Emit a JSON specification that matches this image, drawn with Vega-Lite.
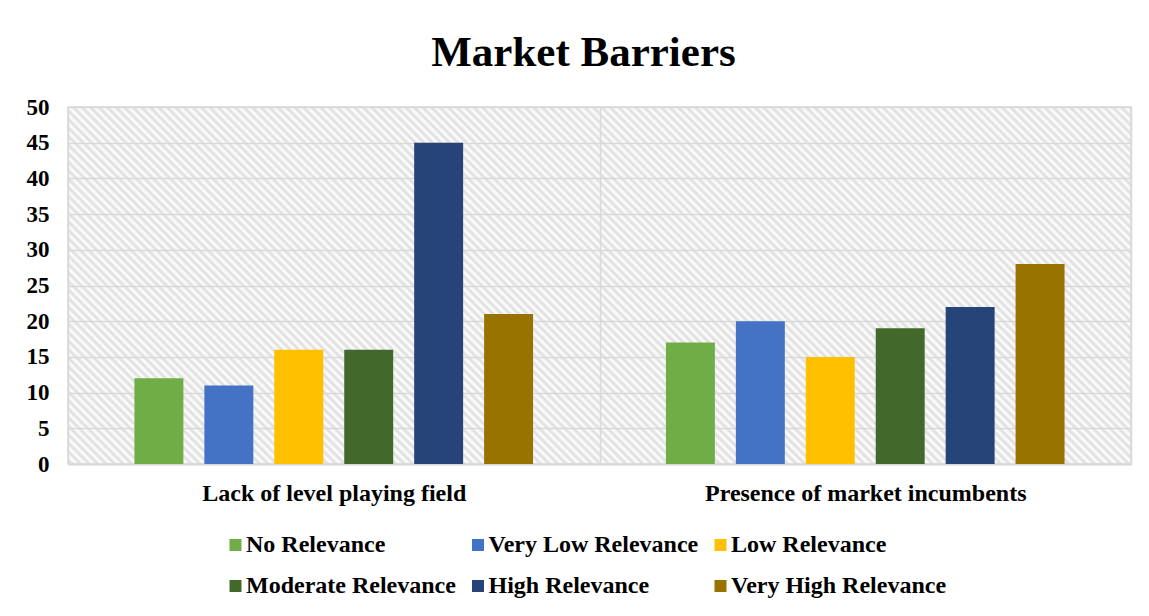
{
  "$schema": "https://vega.github.io/schema/vega-lite/v6.json",
  "width": 1063,
  "height": 357,
  "autosize": {"type": "none"},
  "padding": {"left": 68, "top": 107, "right": 18, "bottom": 152},
  "background": "white",
  "title": {"text": "Market Barriers", "font": "Liberation Serif", "fontSize": 43, "fontWeight": "bold", "color": "black", "anchor": "middle", "offset": 21, "dx": -16},
  "data": {"values": [
    {"barrier": "Lack of level playing field", "level": "No Relevance", "value": 12},
    {"barrier": "Lack of level playing field", "level": "Very Low Relevance", "value": 11},
    {"barrier": "Lack of level playing field", "level": "Low Relevance", "value": 16},
    {"barrier": "Lack of level playing field", "level": "Moderate Relevance", "value": 16},
    {"barrier": "Lack of level playing field", "level": "High Relevance", "value": 45},
    {"barrier": "Lack of level playing field", "level": "Very High Relevance", "value": 21},
    {"barrier": "Presence of market incumbents", "level": "No Relevance", "value": 17},
    {"barrier": "Presence of market incumbents", "level": "Very Low Relevance", "value": 20},
    {"barrier": "Presence of market incumbents", "level": "Low Relevance", "value": 15},
    {"barrier": "Presence of market incumbents", "level": "Moderate Relevance", "value": 19},
    {"barrier": "Presence of market incumbents", "level": "High Relevance", "value": 22},
    {"barrier": "Presence of market incumbents", "level": "Very High Relevance", "value": 28}
  ]},
  "view": {
    "stroke": "#d9d9d9",
    "strokeWidth": 1.5,
    "fill": {"gradient": "linear", "x1": 0, "y1": 1, "x2": 1.20044, "y2": 0.59684, "stops": [
{"offset":0,"color":"#fff"},{"offset":0.003,"color":"#ddd"},{"offset":0.006,"color":"#fff"},{"offset":0.009,"color":"#ddd"},{"offset":0.012,"color":"#fff"},{"offset":0.015,"color":"#ddd"},{"offset":0.018,"color":"#fff"},{"offset":0.021,"color":"#ddd"},{"offset":0.024,"color":"#fff"},{"offset":0.027,"color":"#ddd"},
{"offset":0.03,"color":"#fff"},{"offset":0.033,"color":"#ddd"},{"offset":0.036,"color":"#fff"},{"offset":0.039,"color":"#ddd"},{"offset":0.042,"color":"#fff"},{"offset":0.045,"color":"#ddd"},{"offset":0.048,"color":"#fff"},{"offset":0.051,"color":"#ddd"},{"offset":0.054,"color":"#fff"},{"offset":0.057,"color":"#ddd"},
{"offset":0.06,"color":"#fff"},{"offset":0.063,"color":"#ddd"},{"offset":0.066,"color":"#fff"},{"offset":0.069,"color":"#ddd"},{"offset":0.072,"color":"#fff"},{"offset":0.075,"color":"#ddd"},{"offset":0.078,"color":"#fff"},{"offset":0.081,"color":"#ddd"},{"offset":0.084,"color":"#fff"},{"offset":0.087,"color":"#ddd"},
{"offset":0.09,"color":"#fff"},{"offset":0.093,"color":"#ddd"},{"offset":0.096,"color":"#fff"},{"offset":0.099,"color":"#ddd"},{"offset":0.102,"color":"#fff"},{"offset":0.105,"color":"#ddd"},{"offset":0.108,"color":"#fff"},{"offset":0.111,"color":"#ddd"},{"offset":0.114,"color":"#fff"},{"offset":0.117,"color":"#ddd"},
{"offset":0.12,"color":"#fff"},{"offset":0.123,"color":"#ddd"},{"offset":0.126,"color":"#fff"},{"offset":0.129,"color":"#ddd"},{"offset":0.132,"color":"#fff"},{"offset":0.135,"color":"#ddd"},{"offset":0.138,"color":"#fff"},{"offset":0.141,"color":"#ddd"},{"offset":0.144,"color":"#fff"},{"offset":0.147,"color":"#ddd"},
{"offset":0.15,"color":"#fff"},{"offset":0.153,"color":"#ddd"},{"offset":0.156,"color":"#fff"},{"offset":0.159,"color":"#ddd"},{"offset":0.162,"color":"#fff"},{"offset":0.165,"color":"#ddd"},{"offset":0.168,"color":"#fff"},{"offset":0.171,"color":"#ddd"},{"offset":0.174,"color":"#fff"},{"offset":0.177,"color":"#ddd"},
{"offset":0.18,"color":"#fff"},{"offset":0.183,"color":"#ddd"},{"offset":0.186,"color":"#fff"},{"offset":0.189,"color":"#ddd"},{"offset":0.192,"color":"#fff"},{"offset":0.195,"color":"#ddd"},{"offset":0.198,"color":"#fff"},{"offset":0.201,"color":"#ddd"},{"offset":0.204,"color":"#fff"},{"offset":0.207,"color":"#ddd"},
{"offset":0.21,"color":"#fff"},{"offset":0.213,"color":"#ddd"},{"offset":0.216,"color":"#fff"},{"offset":0.219,"color":"#ddd"},{"offset":0.222,"color":"#fff"},{"offset":0.225,"color":"#ddd"},{"offset":0.228,"color":"#fff"},{"offset":0.231,"color":"#ddd"},{"offset":0.234,"color":"#fff"},{"offset":0.237,"color":"#ddd"},
{"offset":0.24,"color":"#fff"},{"offset":0.243,"color":"#ddd"},{"offset":0.246,"color":"#fff"},{"offset":0.249,"color":"#ddd"},{"offset":0.252,"color":"#fff"},{"offset":0.255,"color":"#ddd"},{"offset":0.258,"color":"#fff"},{"offset":0.261,"color":"#ddd"},{"offset":0.264,"color":"#fff"},{"offset":0.267,"color":"#ddd"},
{"offset":0.27,"color":"#fff"},{"offset":0.273,"color":"#ddd"},{"offset":0.276,"color":"#fff"},{"offset":0.279,"color":"#ddd"},{"offset":0.282,"color":"#fff"},{"offset":0.285,"color":"#ddd"},{"offset":0.288,"color":"#fff"},{"offset":0.291,"color":"#ddd"},{"offset":0.294,"color":"#fff"},{"offset":0.297,"color":"#ddd"},
{"offset":0.3,"color":"#fff"},{"offset":0.303,"color":"#ddd"},{"offset":0.306,"color":"#fff"},{"offset":0.309,"color":"#ddd"},{"offset":0.312,"color":"#fff"},{"offset":0.315,"color":"#ddd"},{"offset":0.318,"color":"#fff"},{"offset":0.321,"color":"#ddd"},{"offset":0.324,"color":"#fff"},{"offset":0.327,"color":"#ddd"},
{"offset":0.33,"color":"#fff"},{"offset":0.333,"color":"#ddd"},{"offset":0.336,"color":"#fff"},{"offset":0.339,"color":"#ddd"},{"offset":0.342,"color":"#fff"},{"offset":0.345,"color":"#ddd"},{"offset":0.348,"color":"#fff"},{"offset":0.351,"color":"#ddd"},{"offset":0.354,"color":"#fff"},{"offset":0.357,"color":"#ddd"},
{"offset":0.36,"color":"#fff"},{"offset":0.363,"color":"#ddd"},{"offset":0.366,"color":"#fff"},{"offset":0.369,"color":"#ddd"},{"offset":0.372,"color":"#fff"},{"offset":0.375,"color":"#ddd"},{"offset":0.378,"color":"#fff"},{"offset":0.381,"color":"#ddd"},{"offset":0.384,"color":"#fff"},{"offset":0.387,"color":"#ddd"},
{"offset":0.39,"color":"#fff"},{"offset":0.393,"color":"#ddd"},{"offset":0.396,"color":"#fff"},{"offset":0.399,"color":"#ddd"},{"offset":0.402,"color":"#fff"},{"offset":0.405,"color":"#ddd"},{"offset":0.408,"color":"#fff"},{"offset":0.411,"color":"#ddd"},{"offset":0.414,"color":"#fff"},{"offset":0.417,"color":"#ddd"},
{"offset":0.42,"color":"#fff"},{"offset":0.423,"color":"#ddd"},{"offset":0.426,"color":"#fff"},{"offset":0.429,"color":"#ddd"},{"offset":0.432,"color":"#fff"},{"offset":0.435,"color":"#ddd"},{"offset":0.438,"color":"#fff"},{"offset":0.441,"color":"#ddd"},{"offset":0.444,"color":"#fff"},{"offset":0.447,"color":"#ddd"},
{"offset":0.45,"color":"#fff"},{"offset":0.453,"color":"#ddd"},{"offset":0.456,"color":"#fff"},{"offset":0.459,"color":"#ddd"},{"offset":0.462,"color":"#fff"},{"offset":0.465,"color":"#ddd"},{"offset":0.468,"color":"#fff"},{"offset":0.471,"color":"#ddd"},{"offset":0.474,"color":"#fff"},{"offset":0.477,"color":"#ddd"},
{"offset":0.48,"color":"#fff"},{"offset":0.483,"color":"#ddd"},{"offset":0.486,"color":"#fff"},{"offset":0.489,"color":"#ddd"},{"offset":0.492,"color":"#fff"},{"offset":0.495,"color":"#ddd"},{"offset":0.498,"color":"#fff"},{"offset":0.501,"color":"#ddd"},{"offset":0.504,"color":"#fff"},{"offset":0.507,"color":"#ddd"},
{"offset":0.51,"color":"#fff"},{"offset":0.513,"color":"#ddd"},{"offset":0.516,"color":"#fff"},{"offset":0.519,"color":"#ddd"},{"offset":0.522,"color":"#fff"},{"offset":0.525,"color":"#ddd"},{"offset":0.528,"color":"#fff"},{"offset":0.531,"color":"#ddd"},{"offset":0.534,"color":"#fff"},{"offset":0.537,"color":"#ddd"},
{"offset":0.54,"color":"#fff"},{"offset":0.543,"color":"#ddd"},{"offset":0.546,"color":"#fff"},{"offset":0.549,"color":"#ddd"},{"offset":0.552,"color":"#fff"},{"offset":0.555,"color":"#ddd"},{"offset":0.558,"color":"#fff"},{"offset":0.561,"color":"#ddd"},{"offset":0.564,"color":"#fff"},{"offset":0.567,"color":"#ddd"},
{"offset":0.57,"color":"#fff"},{"offset":0.573,"color":"#ddd"},{"offset":0.576,"color":"#fff"},{"offset":0.579,"color":"#ddd"},{"offset":0.582,"color":"#fff"},{"offset":0.585,"color":"#ddd"},{"offset":0.588,"color":"#fff"},{"offset":0.591,"color":"#ddd"},{"offset":0.594,"color":"#fff"},{"offset":0.597,"color":"#ddd"},
{"offset":0.6,"color":"#fff"},{"offset":0.603,"color":"#ddd"},{"offset":0.606,"color":"#fff"},{"offset":0.609,"color":"#ddd"},{"offset":0.612,"color":"#fff"},{"offset":0.615,"color":"#ddd"},{"offset":0.618,"color":"#fff"},{"offset":0.621,"color":"#ddd"},{"offset":0.624,"color":"#fff"},{"offset":0.627,"color":"#ddd"},
{"offset":0.63,"color":"#fff"},{"offset":0.633,"color":"#ddd"},{"offset":0.636,"color":"#fff"},{"offset":0.639,"color":"#ddd"},{"offset":0.642,"color":"#fff"},{"offset":0.645,"color":"#ddd"},{"offset":0.648,"color":"#fff"},{"offset":0.651,"color":"#ddd"},{"offset":0.654,"color":"#fff"},{"offset":0.657,"color":"#ddd"},
{"offset":0.66,"color":"#fff"},{"offset":0.663,"color":"#ddd"},{"offset":0.666,"color":"#fff"},{"offset":0.669,"color":"#ddd"},{"offset":0.672,"color":"#fff"},{"offset":0.675,"color":"#ddd"},{"offset":0.678,"color":"#fff"},{"offset":0.681,"color":"#ddd"},{"offset":0.684,"color":"#fff"},{"offset":0.687,"color":"#ddd"},
{"offset":0.69,"color":"#fff"},{"offset":0.693,"color":"#ddd"},{"offset":0.696,"color":"#fff"},{"offset":0.699,"color":"#ddd"},{"offset":0.702,"color":"#fff"},{"offset":0.705,"color":"#ddd"},{"offset":0.708,"color":"#fff"},{"offset":0.711,"color":"#ddd"},{"offset":0.714,"color":"#fff"},{"offset":0.717,"color":"#ddd"},
{"offset":0.72,"color":"#fff"},{"offset":0.723,"color":"#ddd"},{"offset":0.726,"color":"#fff"},{"offset":0.729,"color":"#ddd"},{"offset":0.732,"color":"#fff"},{"offset":0.735,"color":"#ddd"},{"offset":0.738,"color":"#fff"},{"offset":0.741,"color":"#ddd"},{"offset":0.744,"color":"#fff"},{"offset":0.747,"color":"#ddd"},
{"offset":0.75,"color":"#fff"},{"offset":0.753,"color":"#ddd"},{"offset":0.756,"color":"#fff"},{"offset":0.759,"color":"#ddd"},{"offset":0.762,"color":"#fff"},{"offset":0.765,"color":"#ddd"},{"offset":0.768,"color":"#fff"},{"offset":0.771,"color":"#ddd"},{"offset":0.774,"color":"#fff"},{"offset":0.777,"color":"#ddd"},
{"offset":0.78,"color":"#fff"},{"offset":0.783,"color":"#ddd"},{"offset":0.786,"color":"#fff"},{"offset":0.789,"color":"#ddd"},{"offset":0.792,"color":"#fff"},{"offset":0.795,"color":"#ddd"},{"offset":0.798,"color":"#fff"},{"offset":0.801,"color":"#ddd"},{"offset":0.804,"color":"#fff"},{"offset":0.807,"color":"#ddd"},
{"offset":0.81,"color":"#fff"},{"offset":0.813,"color":"#ddd"},{"offset":0.816,"color":"#fff"},{"offset":0.819,"color":"#ddd"},{"offset":0.822,"color":"#fff"},{"offset":0.825,"color":"#ddd"},{"offset":0.828,"color":"#fff"},{"offset":0.831,"color":"#ddd"},{"offset":0.834,"color":"#fff"},{"offset":0.837,"color":"#ddd"},
{"offset":0.84,"color":"#fff"},{"offset":0.843,"color":"#ddd"},{"offset":0.846,"color":"#fff"},{"offset":0.849,"color":"#ddd"},{"offset":0.852,"color":"#fff"},{"offset":0.855,"color":"#ddd"},{"offset":0.858,"color":"#fff"},{"offset":0.861,"color":"#ddd"},{"offset":0.864,"color":"#fff"},{"offset":0.867,"color":"#ddd"},
{"offset":0.87,"color":"#fff"},{"offset":0.873,"color":"#ddd"},{"offset":0.876,"color":"#fff"},{"offset":0.879,"color":"#ddd"},{"offset":0.882,"color":"#fff"},{"offset":0.885,"color":"#ddd"},{"offset":0.888,"color":"#fff"},{"offset":0.891,"color":"#ddd"},{"offset":0.894,"color":"#fff"},{"offset":0.897,"color":"#ddd"},
{"offset":0.9,"color":"#fff"},{"offset":0.903,"color":"#ddd"},{"offset":0.906,"color":"#fff"},{"offset":0.909,"color":"#ddd"},{"offset":0.912,"color":"#fff"},{"offset":0.915,"color":"#ddd"},{"offset":0.918,"color":"#fff"},{"offset":0.921,"color":"#ddd"},{"offset":0.924,"color":"#fff"},{"offset":0.927,"color":"#ddd"},
{"offset":0.93,"color":"#fff"},{"offset":0.933,"color":"#ddd"},{"offset":0.936,"color":"#fff"},{"offset":0.939,"color":"#ddd"},{"offset":0.942,"color":"#fff"},{"offset":0.945,"color":"#ddd"},{"offset":0.948,"color":"#fff"},{"offset":0.951,"color":"#ddd"},{"offset":0.954,"color":"#fff"},{"offset":0.957,"color":"#ddd"},
{"offset":0.96,"color":"#fff"},{"offset":0.963,"color":"#ddd"},{"offset":0.966,"color":"#fff"},{"offset":0.969,"color":"#ddd"},{"offset":0.972,"color":"#fff"},{"offset":0.975,"color":"#ddd"},{"offset":0.978,"color":"#fff"},{"offset":0.981,"color":"#ddd"},{"offset":0.984,"color":"#fff"},{"offset":0.987,"color":"#ddd"},
{"offset":0.99,"color":"#fff"},{"offset":0.993,"color":"#ddd"},{"offset":0.996,"color":"#fff"},{"offset":0.999,"color":"#ddd"},{"offset":1,"color":"#fff"}
    ]}
  },
  "mark": {"type": "bar"},
  "encoding": {
    "x": {
      "field": "barrier", "type": "nominal", "title": null,
      "sort": ["Lack of level playing field", "Presence of market incumbents"],
      "scale": {"paddingInner": 0, "paddingOuter": 0},
      "axis": {"labelFont": "Liberation Serif", "labelFontSize": 24, "labelFontWeight": "bold", "labelColor": "black", "labelPadding": 17, "labelAngle": 0, "labelLimit": 600, "ticks": false, "domain": true, "domainColor": "#d9d9d9", "domainWidth": 2, "grid": true, "tickBand": "extent", "gridColor": "#d9d9d9", "gridWidth": 1.5}
    },
    "xOffset": {
      "field": "level", "type": "nominal",
      "sort": ["No Relevance", "Very Low Relevance", "Low Relevance", "Moderate Relevance", "High Relevance", "Very High Relevance"],
      "scale": {"paddingInner": 0.3, "paddingOuter": 0.95}
    },
    "y": {
      "field": "value", "type": "quantitative", "title": null,
      "scale": {"domain": [0, 50], "nice": false},
      "axis": {"values": [0, 5, 10, 15, 20, 25, 30, 35, 40, 45, 50], "labelFont": "Liberation Serif", "labelFontSize": 23, "labelFontWeight": "bold", "labelColor": "black", "labelPadding": 19, "ticks": false, "domain": false, "gridColor": "#d9d9d9", "gridWidth": 1.5}
    },
    "color": {
      "field": "level", "type": "nominal",
      "scale": {
        "domain": ["No Relevance", "Very Low Relevance", "Low Relevance", "Moderate Relevance", "High Relevance", "Very High Relevance"],
        "range": ["#70ad47", "#4472c4", "#ffc000", "#43682b", "#264478", "#997300"]
      },
      "legend": {"orient": "none", "legendX": 155.5, "legendY": 426, "direction": "horizontal", "columns": 3, "title": null, "padding": 0, "labelFont": "Liberation Serif", "labelFontSize": 24, "labelFontWeight": "bold", "labelColor": "black", "labelLimit": 400, "symbolType": "square", "symbolSize": 144, "symbolStrokeWidth": 0, "labelOffset": -1.5, "columnPadding": 9.5, "rowPadding": 17}
    }
  }
}
